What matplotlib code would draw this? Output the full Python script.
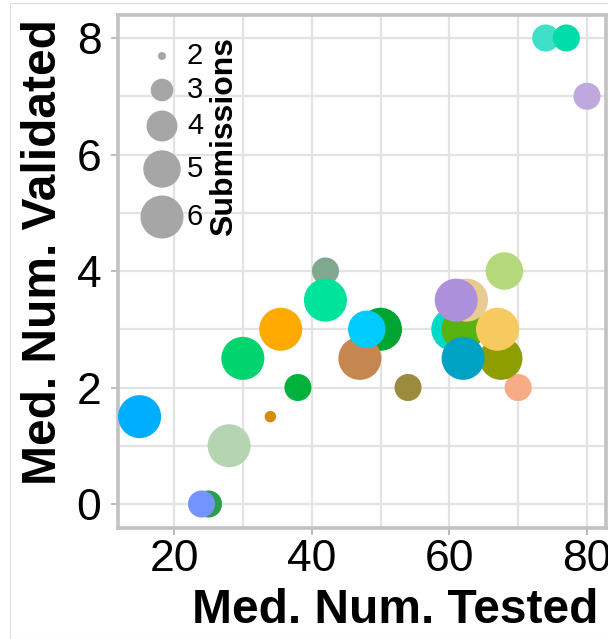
import numpy as np
import matplotlib
matplotlib.use("Agg")
import matplotlib.pyplot as plt

plt.rcParams['font.family'] = ['Liberation Sans', 'DejaVu Sans']

# Median number tested / validated per team, with number of submissions
tested = [15, 28, 25, 24, 34, 30, 35.5, 38, 42, 42, 50, 47, 48, 54,
          74, 77, 80, 68, 70, 60.5, 62, 67.5, 62.5, 61, 67, 62]
validated = [1.5, 1.0, 0, 0, 1.5, 2.5, 3, 2, 4, 3.5, 3, 2.5, 3, 2,
             8, 8, 7, 4, 2, 3, 3, 2.5, 3.5, 3.5, 3, 2.5]
submissions = [6, 6, 3.5, 3.5, 2.15, 6, 6, 3.5, 3.5, 6, 6, 6, 5, 3.5,
               3.5, 3.5, 3.5, 5, 3.5, 6, 6, 6, 6, 6, 6, 6]
colors = ['#00AEFF', '#B5D4B2', '#2A9D48', '#7294FF', '#D98B00', '#00D46E',
          '#FFAA00', '#00B23C', '#7FA88F', '#00E39A', '#00A431', '#C58650',
          '#00CCFF', '#9C8B3C', '#40E0C8', '#00DCAA', '#BEA8DE', '#B4D87A',
          '#F8AC85', '#00D8C8', '#5AB20E', '#8E9E00', '#E8CB92', '#AD90DC',
          '#F6CA5E', '#00A2C4']

x_ticks = [20, 40, 60, 80]
y_ticks = [0, 2, 4, 6, 8]
legend_sizes = [2, 3, 4, 5, 6]

W, H, DPI = 608, 639, 100
SIZE_MIN, SIZE_MAX = 2, 6
D_MIN, D_MAX = 8.0, 43.0  # marker diameter range in pixels


def marker_area(v):
    """Area-linear size scale, returned as scatter 's' (points^2)."""
    v = np.asarray(v, dtype=float)
    area_px = D_MIN**2 + (v - SIZE_MIN) / (SIZE_MAX - SIZE_MIN) * (D_MAX**2 - D_MIN**2)
    d_pt = np.sqrt(area_px) * 72.0 / DPI
    return d_pt**2


fig = plt.figure(figsize=(W / DPI, H / DPI), dpi=DPI)
fig.patch.set_facecolor('white')

# thin outer frame
frame = plt.Rectangle((10 / W, 0), 1.2, (H - 2.5) / H, transform=fig.transFigure,
                      fill=False, edgecolor='#dddddd', linewidth=0.8)
fig.add_artist(frame)

ax_l, ax_r, ax_t, ax_b = 118, 606, 15, 528
ax = fig.add_axes([ax_l / W, (H - ax_b) / H, (ax_r - ax_l) / W, (ax_b - ax_t) / H])
ax.set_facecolor('white')

ax.set_xlim(11.86, 82.76)
ax.set_ylim(-0.412, 8.395)
ax.set_xticks(x_ticks)
ax.set_yticks(y_ticks)
ax.set_xticks([30, 50, 70], minor=True)
ax.set_yticks([1, 3, 5, 7], minor=True)
ax.grid(True, which='both', color='#e3e3e3', linewidth=1.6, zorder=0)
ax.set_axisbelow(True)

for s in ax.spines.values():
    s.set_color('#c2c2c2')
    s.set_linewidth(2.6)

ax.tick_params(which='major', length=5, width=1.3, color='#b5b5b5',
               labelsize=32, pad=3, labelcolor='black')
ax.tick_params(axis='y', which='major', pad=7)
ax.tick_params(which='minor', length=0)

ax.scatter(tested, validated, s=marker_area(submissions), c=colors,
           edgecolors='none', zorder=3)


def to_axes(px, py):
    return (px - ax_l) / (ax_r - ax_l), (ax_b - py) / (ax_b - ax_t)


ax.set_xlabel('Med. Num. Tested', fontsize=34.5, fontweight='bold')
ax.set_ylabel('Med. Num. Validated', fontsize=34.5, fontweight='bold')
ax.xaxis.set_label_coords(*to_axes(395, 588))
ax.yaxis.set_label_coords(*to_axes(66, 252))

# size legend
key_y = [56, 90, 126, 169, 217]
for v, py in zip(legend_sizes, key_y):
    kx, ky = to_axes(162, py)
    ax.scatter([kx], [ky], s=marker_area([v]), color='#a6a6a6',
               edgecolors='none', transform=ax.transAxes, zorder=4, clip_on=False)
    tx, ty = to_axes(187, py)
    ax.text(tx, ty, str(v), transform=ax.transAxes, fontsize=21,
            ha='left', va='center', zorder=4)

tx, ty = to_axes(224, 137)
ax.text(tx, ty, 'Submissions', transform=ax.transAxes, fontsize=23,
        fontweight='bold', rotation=90, ha='center', va='center', zorder=4)

fig.savefig('out.png', dpi=DPI, facecolor='white')
